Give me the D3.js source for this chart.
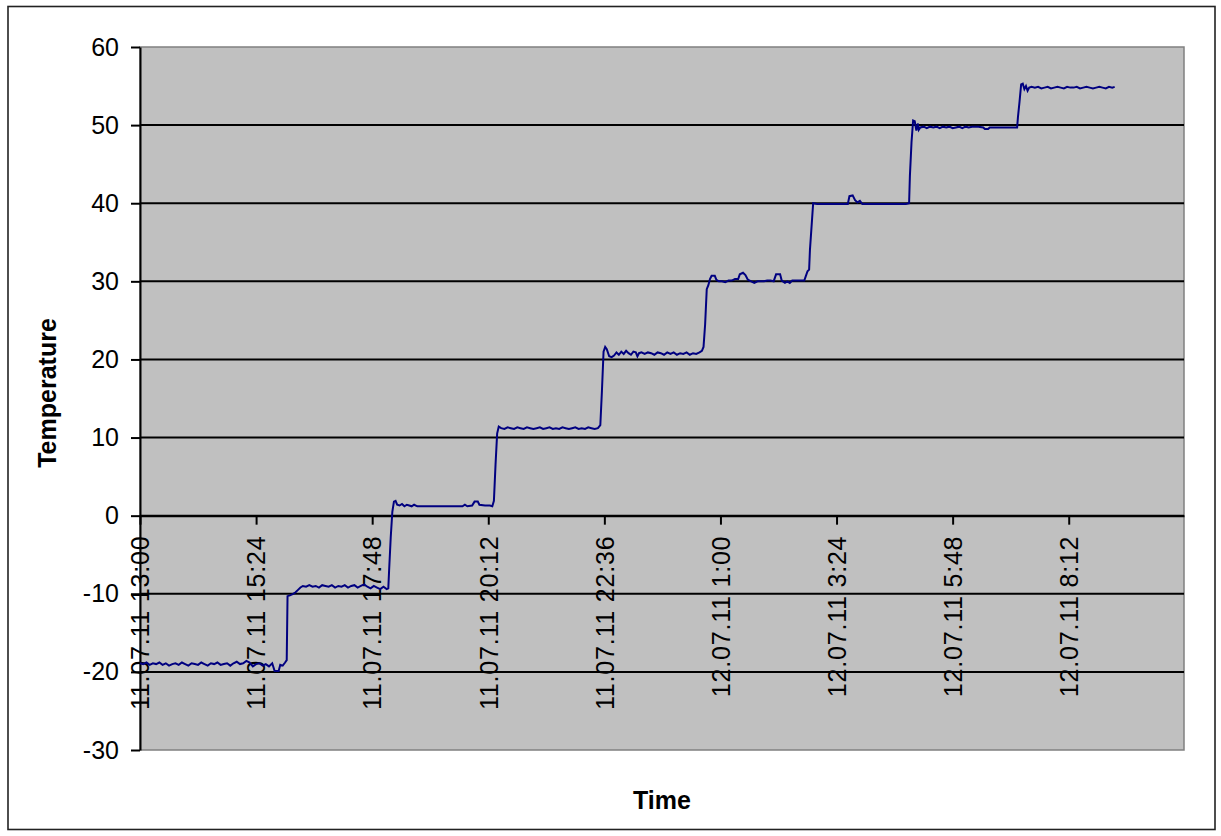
<!DOCTYPE html>
<html>
<head>
<meta charset="utf-8">
<script src="https://cdn.jsdelivr.net/npm/d3@7"></script>
<style>
  html, body { margin: 0; padding: 0; background: #fff; }
  svg { display: block; font-family: "Liberation Sans", Arial, sans-serif; }
</style>
</head>
<body>
<svg id="chart" width="1221" height="836"></svg>
<script>
// ---- data ----
// Start of the recording: 11.07.11 13:00
const startTime = new Date(2011, 6, 11, 13, 0);
// minutes after start, temperature
const readings = [
  [0,-18.9],[4,-19.0],[8,-18.8],[12,-19.1],[16,-18.9],[20,-19.0],[24,-18.8],[28,-19.1],[32,-18.9],[36,-19.2],
  [40,-19.0],[44,-18.9],[48,-19.1],[52,-18.8],[56,-19.0],[60,-19.2],[64,-18.9],[68,-19.0],[72,-19.1],[76,-18.8],
  [80,-19.0],[84,-19.2],[88,-18.9],[92,-19.0],[96,-18.8],[100,-19.1],[104,-19.0],[108,-18.9],[112,-19.2],[116,-18.9],
  [120,-18.7],[124,-19.0],[128,-18.9],[132,-18.6],[136,-18.8],[140,-19.3],[144,-19.0],[148,-18.9],[152,-19.2],[156,-19.0],
  [160,-19.3],[164,-18.9],[167,-19.9],[172,-19.9],[174,-19.1],[177,-19.2],[180,-18.8],[182,-18.5],
  [183,-10.3],[186,-10.2],[190,-10.0],[193,-9.8],[196,-9.5],[199,-9.2],[202,-9.0],
  [206,-9.1],[210,-8.9],[214,-9.1],[218,-9.0],[222,-9.2],[226,-8.9],[230,-9.0],[234,-9.1],[238,-8.9],[242,-9.2],
  [246,-9.0],[250,-9.1],[254,-8.9],[258,-9.2],[262,-9.0],[266,-8.9],[270,-9.2],[274,-9.0],[278,-8.8],[282,-9.1],
  [286,-9.3],[290,-9.0],[294,-9.2],[298,-9.4],[302,-9.1],[306,-9.4],[308,-9.3],
  [309,-7.0],[311,-2.8],[313,0.5],[315,1.8],[317,1.9],[319,1.4],[322,1.3],[325,1.5],[328,1.2],[331,1.4],
  [334,1.3],[337,1.2],[340,1.4],[344,1.2],[350,1.2],[360,1.2],[370,1.2],[380,1.2],[390,1.2],[400,1.2],
  [403,1.4],[406,1.2],[412,1.3],[415,1.8],[419,1.8],[421,1.4],[428,1.3],[434,1.3],[437,1.2],[439,1.9],
  [441,6.5],[443,10.5],[445,11.4],[448,11.2],
  [452,11.1],[456,11.3],[460,11.2],[464,11.1],[468,11.3],[472,11.2],[476,11.1],[480,11.3],[484,11.2],[488,11.1],
  [492,11.2],[496,11.3],[500,11.1],[504,11.2],[508,11.3],[512,11.1],[516,11.2],[520,11.1],[524,11.3],[528,11.2],
  [532,11.1],[536,11.2],[540,11.3],[544,11.1],[548,11.2],[552,11.1],[556,11.3],[560,11.2],[564,11.1],[568,11.2],
  [571,11.6],[573,16.0],[575,21.0],[577,21.6],[579,21.3],[582,20.4],[585,20.3],[588,20.5],[591,20.9],[594,20.6],
  [597,21.0],[600,20.7],[603,21.1],[606,20.8],[609,20.6],[612,21.0],[615,20.9],[617,20.4],[619,20.8],[622,20.9],
  [626,20.7],[630,20.9],[634,20.8],[638,20.6],[642,20.9],[646,20.8],[650,20.6],[654,20.9],[658,20.7],[662,20.9],
  [666,20.6],[670,20.8],[674,20.7],[678,20.9],[682,20.6],[686,20.8],[690,20.7],[694,20.9],[697,21.1],[699,21.6],
  [701,24.5],[703,29.0],[705,29.5],[707,30.3],[709,30.7],[713,30.7],[715,30.2],[718,30.0],[722,30.0],[726,29.9],
  [730,30.1],[734,30.1],[738,30.3],[742,30.3],[744,30.9],[748,31.1],[751,30.8],[754,30.2],[758,30.0],[762,29.8],
  [766,30.0],[770,30.0],[774,30.0],[778,30.1],[782,30.1],[786,30.0],[789,30.9],[794,30.9],[796,30.1],[800,29.8],
  [803,30.0],[806,29.8],[809,30.1],[815,30.1],[820,30.1],[824,30.1],[826,30.7],[828,31.3],[830,31.5],[831,34.0],
  [833,37.0],[835,40.0],[840,39.9],[850,39.9],[860,39.9],[870,39.9],[878,39.9],[880,40.9],[884,41.0],[887,40.4],
  [890,40.1],[893,40.3],[896,39.9],[900,39.9],[910,39.9],[920,39.9],[930,39.9],[940,39.9],[950,39.9],[954,40.0],
  [955,43.5],[957,47.8],[959,50.6],[961,50.5],[963,49.3],[965,50.2],[966,49.4],[968,49.7],[972,49.8],[976,49.6],
  [980,49.8],[984,49.7],[988,49.8],[992,49.6],[996,49.8],[1000,49.7],[1004,49.8],[1008,49.6],[1012,49.7],[1016,49.8],
  [1020,49.6],[1024,49.8],[1028,49.7],[1032,49.8],[1036,49.8],[1040,49.8],[1046,49.7],[1048,49.5],[1052,49.5],[1054,49.7],
  [1060,49.7],[1070,49.7],[1080,49.7],[1088,49.7],[1089,51.0],[1091,53.0],[1093,55.2],[1095,55.3],[1097,54.6],[1099,55.0],
  [1101,54.4],[1103,54.8],[1106,54.9],[1110,54.8],[1114,54.9],[1118,54.7],[1122,54.8],[1126,54.9],[1130,54.7],[1134,54.8],
  [1138,54.9],[1142,54.8],[1146,54.7],[1150,54.9],[1154,54.8],[1158,54.8],[1162,54.9],[1166,54.7],[1170,54.8],[1174,54.9],
  [1178,54.8],[1182,54.7],[1186,54.8],[1190,54.9],[1194,54.8],[1198,54.7],[1202,54.9],[1206,54.8],[1209,54.9]
];
const xTickMinutes = [0, 144, 288, 432, 576, 720, 864, 1008, 1152];
const xTickLabels = ["11.07.11 13:00","11.07.11 15:24","11.07.11 17:48","11.07.11 20:12","11.07.11 22:36",
                     "12.07.11 1:00","12.07.11 3:24","12.07.11 5:48","12.07.11 8:12"];
const yTicks = [-30,-20,-10,0,10,20,30,40,50,60];
const yTitle = "Temperature";
const xTitle = "Time";
const axisEndMinutes = 1295;

// ---- layout ----
const svg = d3.select("#chart");
const L = 140, R = 1184, T = 47, B = 750;
const FS = 25;
const toDate = m => new Date(startTime.getTime() + m * 60000);

const x = d3.scaleTime().domain([startTime, toDate(axisEndMinutes)]).range([L, R]);
const y = d3.scaleLinear().domain([-30, 60]).range([B, T]);

// outer frame
svg.append("rect").attr("x", 8).attr("y", 6.5).attr("width", 1207).attr("height", 823)
  .attr("fill", "#fff").attr("stroke", "#222").attr("stroke-width", 1.6);

// plot area
svg.append("rect").attr("x", L).attr("y", T).attr("width", R - L).attr("height", B - T)
  .attr("fill", "#c0c0c0").attr("stroke", "#808080").attr("stroke-width", 1.5);

// gridlines
svg.append("g").selectAll("line").data(yTicks.filter(v => v > -30 && v < 60)).join("line")
  .attr("x1", L).attr("x2", R).attr("y1", d => y(d)).attr("y2", d => y(d))
  .attr("stroke", "#000").attr("stroke-width", 2);

// y axis
const yAxis = svg.append("g").attr("transform", `translate(${L},0)`)
  .call(d3.axisLeft(y).tickValues(yTicks).tickFormat(d => String(d))
    .tickSize(9).tickPadding(12).tickSizeOuter(0));
yAxis.select(".domain").attr("stroke", "#000").attr("stroke-width", 2);
yAxis.selectAll(".tick line").attr("stroke", "#000").attr("stroke-width", 2);
yAxis.selectAll(".tick text").attr("font-size", FS).attr("fill", "#000")
  .attr("font-family", "'Liberation Sans', Arial, sans-serif");

// x axis at y = 0
const xTickDates = xTickMinutes.map(toDate);
const xAxis = svg.append("g").attr("transform", `translate(0,${y(0)})`)
  .call(d3.axisBottom(x).tickValues(xTickDates).tickFormat((d, i) => xTickLabels[i])
    .tickSize(9).tickPadding(0).tickSizeOuter(0));
xAxis.select(".domain").attr("stroke", "#000").attr("stroke-width", 2);
xAxis.selectAll(".tick line").attr("stroke", "#000").attr("stroke-width", 2);
xAxis.selectAll(".tick text")
  .attr("font-size", FS).attr("fill", "#000")
  .attr("font-family", "'Liberation Sans', Arial, sans-serif")
  .attr("letter-spacing", "0.8px")
  .attr("text-anchor", "end")
  .attr("y", 0).attr("dy", "0.35em")
  .attr("transform", "translate(0,20) rotate(-90)");

// line
const line = d3.line()
  .x(d => x(toDate(d[0])))
  .y(d => y(d[1]));
svg.append("path").datum(readings)
  .attr("d", line).attr("fill", "none")
  .attr("stroke", "#000080").attr("stroke-width", 2).attr("stroke-linejoin", "miter");

// titles
svg.append("text").attr("x", (L + R) / 2).attr("y", 809)
  .attr("text-anchor", "middle").attr("font-size", FS).attr("font-weight", "bold")
  .text(xTitle);
svg.append("text").attr("transform", `translate(56,${393}) rotate(-90)`)
  .attr("text-anchor", "middle").attr("font-size", FS).attr("font-weight", "bold")
  .text(yTitle);
</script>
</body>
</html>
